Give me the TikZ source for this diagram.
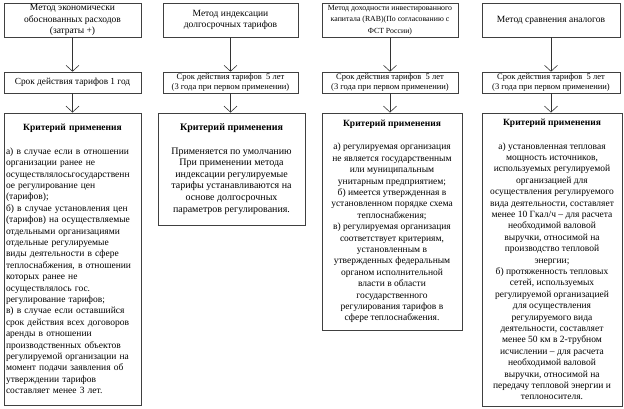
\documentclass[tikz,border=0pt]{standalone}
\usepackage{fontspec}
\setmainfont{Liberation Serif}
\usetikzlibrary{arrows.meta}
\setlength{\parindent}{0pt}

\begin{document}
\begin{tikzpicture}[x=1pt,y=-1pt]
\tikzstyle{box}=[draw=black!75,line width=0.6pt,inner sep=1pt,align=center]
\tikzstyle{method}=[box,minimum height=34pt,font=\fontsize{9.5}{11.4}\selectfont]
\tikzstyle{term}=[box,minimum height=21pt,font=\fontsize{8.5}{10.8}\selectfont]
\tikzstyle{crit}=[box,line width=0.9pt,font=\fontsize{9.5}{11.4}\selectfont]
\tikzstyle{arr}=[draw=black!80,line width=0.6pt,-{Straight Barb[width=13pt,length=6pt]}]
    \useasboundingbox (0,0) rectangle (624,408);
    % methods
    \node[method,minimum width=137pt] (m1) at (72.5,20) {Метод экономически\\обоснованных расходов\\(затраты +)};
    \node[method,minimum width=135pt] (m2) at (230.5,20) {Метод индексации\\долгосрочных тарифов};
    \node[method,minimum width=136pt,font=\fontsize{7.8}{11.3}\selectfont] (m3) at (390,20)
        {Метод доходности инвестированного\\капитала (RAB)(По согласованию с\\ФСТ России)};
    \node[method,minimum width=138pt] (m4) at (551,20) {Метод сравнения аналогов};
    % terms
    \node[term,minimum width=137pt,font=\fontsize{9.3}{11}\selectfont] (t1) at (72.5,82.5) {Срок действия тарифов 1 год};
    \node[term,minimum width=135pt] (t2) at (230.5,82.5) {Срок действия тарифов \ 5 лет\\(3 года при первом применении)};
    \node[term,minimum width=136pt] (t3) at (390,82.5) {Срок действия тарифов \ 5 лет\\(3 года при первом применении)};
    \node[term,minimum width=138pt] (t4) at (551,82.5) {Срок действия тарифов \ 5 лет\\(3 года при первом применении)};
    % criteria
    \node[crit,minimum width=137pt,minimum height=292pt,text width=133pt,align=left] (c1) at (72.5,259)
        {\centerline{\textbf{Критерий применения}}\vspace{12pt}
        а) в случае если в отношении\\
        организации ранее не\\
        осуществлялосьгосударственн\\
        ое регулирование цен\\
        (тарифов);\\
        б) в случае установления цен\\
        (тарифов) на осуществляемые\\
        отдельными организациями\\
        отдельные регулируемые\\
        виды деятельности в сфере\\
        теплоснабжения, в отношении\\
        которых ранее не\\
        осуществлялось гос.\\
        регулирование тарифов;\\
        в) в случае если оставшийся\\
        срок действия всех договоров\\
        аренды в отношении\\
        производственных объектов\\
        регулируемой организации на\\
        момент подачи заявления об\\
        утверждении тарифов\\
        составляет менее 3 лет.};
    \node[crit,minimum width=147pt,minimum height=112pt,font=\fontsize{10}{11.6}\selectfont] (c2) at (231.5,169)
        {\textbf{Критерий применения}\\[12pt]
        Применяется по умолчанию\\
        При применении метода\\
        индексации регулируемые\\
        тарифы устанавливаются на\\
        основе долгосрочных\\
        параметров регулирования.};
    \node[crit,minimum width=140pt,minimum height=217pt] (c3) at (392,221.5)
        {\textbf{Критерий применения}\\[12pt]
        а) регулируемая организация\\
        не является государственным\\
        или муниципальным\\
        унитарным предприятием;\\
        б) имеется утвержденная в\\
        установленном порядке схема\\
        теплоснабжения;\\
        в) регулируемая организация\\
        соответствует критериям,\\
        установленным в\\
        утвержденных федеральным\\
        органом исполнительной\\
        власти в области\\
        государственного\\
        регулирования тарифов в\\
        сфере теплоснабжения.};
    \node[crit,minimum width=140pt,minimum height=293pt] (c4) at (552,259.5)
        {\textbf{Критерий применения}\\[12pt]
        а) установленная тепловая\\
        мощность источников,\\
        используемых регулируемой\\
        организацией для\\
        осуществления регулируемого\\
        вида деятельности, составляет\\
        менее 10 Гкал/ч -- для расчета\\
        необходимой валовой\\
        выручки, относимой на\\
        производство тепловой\\
        энергии;\\
        б) протяженность тепловых\\
        сетей, используемых\\
        регулируемой организацией\\
        для осуществления\\
        регулируемого вида\\
        деятельности, составляет\\
        менее 50 км в 2-трубном\\
        исчислении -- для расчета\\
        необходимой валовой\\
        выручки, относимой на\\
        передачу тепловой энергии и\\
        теплоносителя.};
    % arrows
    \foreach \i in {1,...,4} {
        \draw[arr] (m\i.south) -- (m\i.south |- t\i.north);
        \draw[arr] (t\i.south) -- (t\i.south |- c\i.north);
    }
\end{tikzpicture}
\end{document}
